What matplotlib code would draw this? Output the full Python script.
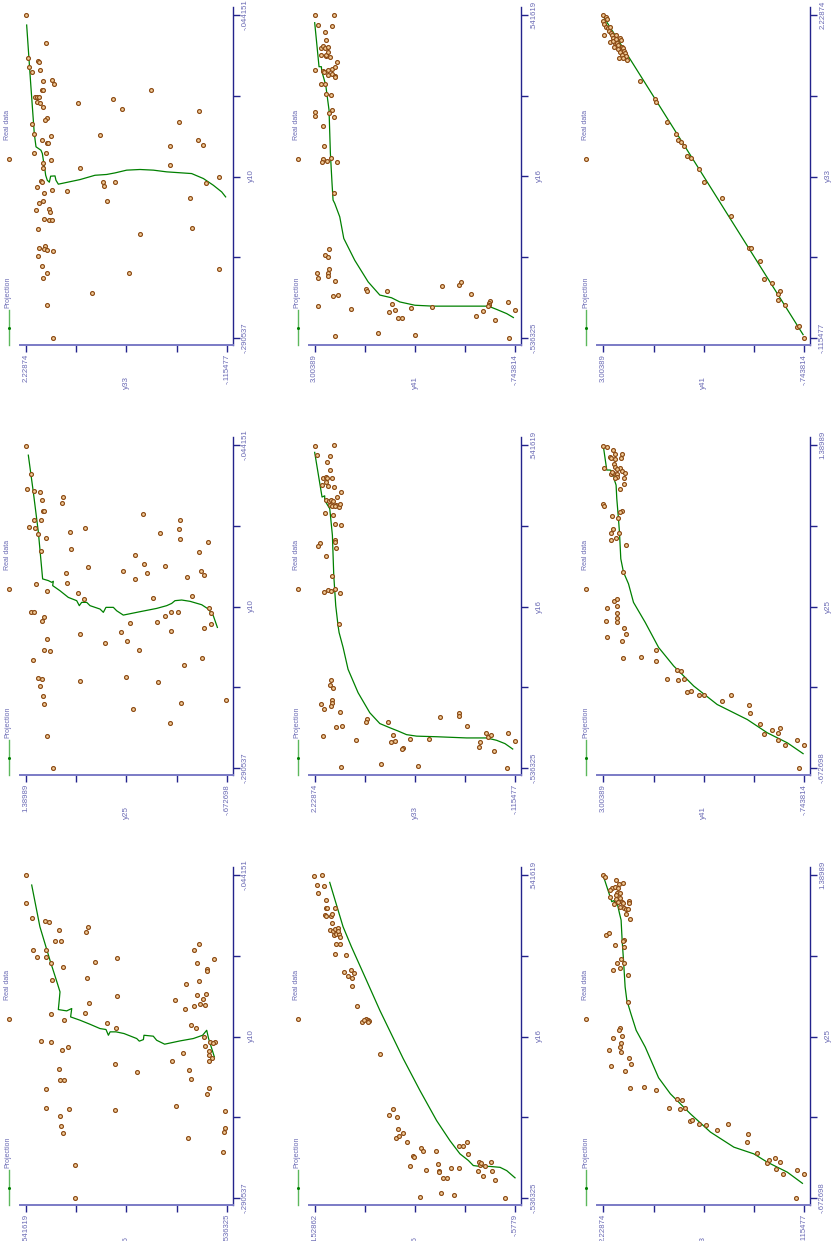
import numpy as np
import matplotlib
matplotlib.use('Agg')
import matplotlib.pyplot as plt
from matplotlib.lines import Line2D

plt.rcParams['font.family'] = ['Liberation Sans', 'DejaVu Sans']

W, H = 833, 1241

# value range of every variable (axis end labels)
ranges = {
    'y10': (-0.290537, -0.044151),
    'y16': (-0.536325, 0.541619),
    'y25': (-0.672698, 1.38989),
    'y26': (-0.5779, 1.52862),
    'y33': (-0.115477, 2.22874),
    'y41': (-0.743814, 3.00389),
}

# ---- real data, (x, y) pairs per panel ----
real_10_16 = [
    (-0.0442, 0.542), (-0.0658, 0.542), (-0.0773, 0.508), (-0.0793, 0.440), (-0.0798, 0.416),
    (-0.0862, 0.363), (-0.0874, 0.219), (-0.0841, 0.207), (-0.0943, 0.386), (-0.0943, 0.355),
    (-0.1010, 0.506), (-0.1015, 0.434), (-0.1065, 0.484), (-0.1070, 0.434), (-0.1073, 0.051),
    (-0.1104, 0.171), (-0.1116, 0.407), (-0.1147, 0.343), (-0.1231, 0.216), (-0.1246, 0.404),
    (-0.1366, 0.051), (-0.1417, 0.201), (-0.1498, 0.407), (-0.1491, 0.225), (-0.1549, 0.338),
    (-0.1570, 0.108), (-0.1610, 0.056), (-0.1709, 0.459), (-0.1715, 0.407), (-0.1750, 0.314),
    (-0.1776, 0.348), (-0.1880, 0.064), (-0.1918, 0.366), (-0.1944, -0.053), (-0.2002, 0.357),
    (-0.2007, 0.339), (-0.2073, 0.434), (-0.2216, 0.432), (-0.2224, 0.311), (-0.2234, 0.064),
    (-0.2277, 0.359), (-0.2356, 0.354), (-0.2409, 0.343), (-0.2656, 0.278), (-0.2903, 0.277),
    (-0.0966, -0.389), (-0.1015, -0.361), (-0.1081, -0.468), (-0.1109, -0.377), (-0.1160, -0.432),
    (-0.1175, -0.429), (-0.1274, -0.318), (-0.1249, -0.389), (-0.1358, -0.377), (-0.1346, -0.425),
    (-0.1396, -0.257), (-0.1391, -0.407), (-0.1422, -0.395), (-0.1432, -0.422), (-0.1440, -0.359),
    (-0.1460, -0.314), (-0.1585, -0.346), (-0.1605, -0.372), (-0.1679, -0.414), (-0.1712, -0.447),
    (-0.1717, -0.474), (-0.1720, -0.464), (-0.1743, -0.420), (-0.1786, -0.439), (-0.1811, -0.443),
    (-0.1834, -0.457), (-0.1860, -0.439), (-0.1862, -0.241), (-0.1799, -0.303), (-0.1931, -0.334),
    (-0.2000, -0.343), (-0.2063, -0.443), (-0.2109, -0.429), (-0.2203, -0.264), (-0.2241, -0.529),
    (-0.2445, -0.327), (-0.2374, -0.529), (-0.2404, -0.524), (-0.2557, -0.517),
]
proj_10_16 = [
    (-0.0518, 0.511), (-0.0836, 0.467), (-0.1091, 0.413), (-0.1269, 0.373), (-0.1333, 0.359),
    (-0.1396, 0.363), (-0.1468, 0.368), (-0.1478, 0.323), (-0.1460, 0.296), (-0.1524, 0.302),
    (-0.1549, 0.252), (-0.1580, 0.198), (-0.1613, 0.144), (-0.1620, 0.112), (-0.1664, 0.099),
    (-0.1638, 0.090), (-0.1638, 0.058), (-0.1651, 0.015), (-0.1689, -0.053), (-0.1709, -0.067),
    (-0.1697, -0.089), (-0.1664, -0.092), (-0.1671, -0.142), (-0.1702, -0.160), (-0.1732, -0.203),
    (-0.1707, -0.286), (-0.1689, -0.357), (-0.1664, -0.407), (-0.1626, -0.429), (-0.1689, -0.439),
    (-0.1829, -0.470),
]

real_10_25 = [
    (-0.0447, 1.390), (-0.0664, 1.339), (-0.0774, 1.376), (-0.0794, 1.308), (-0.0799, 1.250),
    (-0.0863, 1.222), (-0.0838, 1.006), (-0.0881, 1.017), (-0.0945, 1.212), (-0.0947, 1.208),
    (-0.1016, 1.311), (-0.1016, 1.239), (-0.1067, 1.356), (-0.1072, 1.301), (-0.1118, 1.263),
    (-0.1149, 1.188), (-0.1108, 0.941), (-0.1072, 0.787), (-0.1233, 0.931), (-0.1251, 1.232),
    (-0.0970, 0.187), (-0.1113, 0.016), (-0.1083, -0.183), (-0.1016, -0.196), (-0.1159, -0.196),
    (-0.1277, 0.273), (-0.1254, -0.385), (-0.1180, -0.477), (-0.1351, 0.174), (-0.1361, -0.035),
    (-0.1420, 0.143), (-0.1399, 0.396), (-0.1466, 0.266), (-0.1420, 0.975), (-0.1369, 0.756),
    (-0.1494, 0.969), (-0.1499, 1.291), (-0.1553, 1.174), (-0.1445, -0.261), (-0.1402, -0.405),
    (-0.1435, -0.436), (-0.1573, 0.859), (-0.1619, 0.797), (-0.1611, 0.088), (-0.1591, -0.313),
    (-0.1713, 1.335), (-0.1718, 1.304), (-0.1757, 1.202), (-0.1782, 1.229), (-0.1749, -0.042),
    (-0.1718, -0.097), (-0.1718, -0.172), (-0.1683, -0.488), (-0.1726, -0.515), (-0.1795, 0.040),
    (-0.1803, 0.321), (-0.1810, -0.508), (-0.1841, -0.443), (-0.1864, -0.097), (-0.1867, 0.414),
    (-0.1887, 0.835), (-0.1923, 1.178), (-0.1938, 0.355), (-0.1951, 0.581), (-0.2007, 1.202),
    (-0.2015, 1.140), (-0.2007, 0.225), (-0.2079, 1.315), (-0.2068, -0.419), (-0.2117, -0.231),
    (-0.2209, 0.366), (-0.2221, 1.270), (-0.2229, 1.222), (-0.2242, 0.832), (-0.2247, 0.033),
    (-0.2280, 1.246), (-0.2359, 1.215), (-0.2415, 1.205), (-0.2410, -0.200), (-0.2387, -0.669),
    (-0.2456, 0.294), (-0.2563, -0.093), (-0.2663, 1.174), (-0.2905, 1.116),
]
proj_10_25 = [
    (-0.0519, 1.366), (-0.0799, 1.315), (-0.1106, 1.263), (-0.1463, 1.219), (-0.1476, 1.160),
    (-0.1489, 1.126), (-0.1481, 1.109), (-0.1514, 1.116), (-0.1553, 1.041), (-0.1604, 0.955),
    (-0.1629, 0.869), (-0.1667, 0.842), (-0.1642, 0.818), (-0.1642, 0.766), (-0.1667, 0.732),
    (-0.1693, 0.629), (-0.1718, 0.595), (-0.1680, 0.568), (-0.1680, 0.492), (-0.1706, 0.458),
    (-0.1739, 0.390), (-0.1713, 0.218), (-0.1688, 0.047), (-0.1667, -0.056), (-0.1650, -0.107),
    (-0.1629, -0.141), (-0.1624, -0.210), (-0.1634, -0.296), (-0.1660, -0.416), (-0.1693, -0.484),
    (-0.1744, -0.535), (-0.1833, -0.577),
]

real_10_33 = [
    (-0.0442, 2.229), (-0.0658, 1.999), (-0.0773, 2.202), (-0.0793, 2.085), (-0.0798, 2.077),
    (-0.0841, 2.190), (-0.0874, 2.163), (-0.0862, 2.062), (-0.0943, 2.034), (-0.0941, 1.921),
    (-0.0969, 1.902), (-0.1010, 2.046), (-0.1015, 2.026), (-0.1070, 2.124), (-0.1070, 2.104),
    (-0.1065, 2.073), (-0.1104, 2.097), (-0.1116, 2.069), (-0.1147, 2.026), (-0.1231, 1.987),
    (-0.1246, 2.003), (-0.1274, 2.155), (-0.1346, 2.136), (-0.1366, 1.937), (-0.1396, 2.042),
    (-0.1417, 1.980), (-0.1417, 1.972), (-0.1496, 2.139), (-0.1491, 1.991), (-0.1549, 1.937),
    (-0.1608, 2.026), (-0.1567, 2.030), (-0.1709, 2.054), (-0.1715, 2.046), (-0.1753, 2.100),
    (-0.1799, 2.019), (-0.1778, 1.925), (-0.1862, 2.034), (-0.1877, 2.073), (-0.1931, 2.116),
    (-0.1918, 1.956), (-0.1946, 1.945), (-0.2000, 2.015), (-0.2007, 1.964), (-0.2002, 1.925),
    (-0.2073, 2.089), (-0.2216, 2.077), (-0.2201, 2.011), (-0.2226, 2.015), (-0.2236, 1.987),
    (-0.2241, 1.917), (-0.2277, 2.085), (-0.2356, 2.046), (-0.2409, 1.984), (-0.2445, 2.034),
    (-0.2656, 1.987), (-0.2903, 1.917),
    (-0.1015, 0.769), (-0.1081, 1.209), (-0.1157, 1.111), (-0.1111, 1.618), (-0.1175, 0.208),
    (-0.1254, 0.445), (-0.1358, 1.368), (-0.1442, 0.543), (-0.1396, 0.224), (-0.1432, 0.165),
    (-0.1608, 1.598), (-0.1585, 0.547), (-0.1679, -0.029), (-0.1720, 0.130), (-0.1715, 1.333),
    (-0.1745, 1.314), (-0.1715, 1.193), (-0.1786, 1.746), (-0.1862, 1.283), (-0.1839, 0.317),
    (-0.2063, 0.294), (-0.2109, 0.897), (-0.2376, -0.022), (-0.2407, 1.026), (-0.2560, 1.454),
]
proj_10_33 = [
    (-0.0518, 2.221), (-0.0964, 2.174), (-0.1346, 2.132), (-0.1447, 2.112), (-0.1473, 2.054),
    (-0.1498, 2.038), (-0.1549, 2.026), (-0.1625, 2.007), (-0.1664, 1.999), (-0.1702, 1.980),
    (-0.1717, 1.956), (-0.1671, 1.941), (-0.1669, 1.890), (-0.1702, 1.879), (-0.1732, 1.851),
    (-0.1697, 1.598), (-0.1664, 1.423), (-0.1658, 1.287), (-0.1646, 1.189), (-0.1625, 1.053),
    (-0.1620, 0.897), (-0.1625, 0.741), (-0.1638, 0.586), (-0.1651, 0.294), (-0.1689, 0.157),
    (-0.1740, 0.041), (-0.1791, -0.057), (-0.1829, -0.103),
]

real_16_26 = [
    (0.539, 1.536), (0.542, 1.448), (0.508, 1.501), (0.506, 1.434), (0.483, 1.494),
    (0.458, 1.406), (0.433, 1.413), (0.430, 1.402), (0.433, 1.315), (0.408, 1.424),
    (0.406, 1.409), (0.404, 1.360), (0.413, 1.350), (0.383, 1.346), (0.358, 1.367),
    (0.355, 1.336), (0.363, 1.318), (0.365, 1.283), (0.341, 1.325), (0.344, 1.301),
    (0.346, 1.273), (0.335, 1.259), (0.354, 1.280), (0.313, 1.308), (0.310, 1.262),
    (0.277, 1.318), (0.276, 1.196), (0.217, 1.224), (0.224, 1.143), (0.216, 1.112),
    (0.204, 1.178), (0.199, 1.133), (0.172, 1.133), (0.106, 1.087), (0.050, 1.027),
    (0.061, 0.992), (0.059, 0.971), (0.055, 0.961), (0.050, 0.964), (0.059, 1.006),
    (-0.055, 0.838), (-0.240, 0.705), (-0.260, 0.750), (-0.266, 0.663), (-0.306, 0.659),
    (-0.336, 0.673), (-0.329, 0.642), (-0.319, 0.600), (-0.348, 0.558), (-0.369, 0.418),
    (-0.380, 0.397), (-0.380, 0.260), (-0.395, 0.502), (-0.398, 0.491), (-0.429, 0.530),
    (-0.424, 0.239), (-0.443, 0.365), (-0.447, 0.221), (-0.450, 0.225), (-0.435, 0.095),
    (-0.435, 0.018), (-0.470, 0.144), (-0.470, 0.179), (-0.521, 0.204), (-0.527, 0.067),
    (-0.532, 0.425), (-0.363, 0.018), (-0.362, -0.028), (-0.350, -0.073), (-0.391, -0.084),
    (-0.417, -0.196), (-0.425, -0.210), (-0.420, -0.217), (-0.417, -0.326), (-0.430, -0.259),
    (-0.447, -0.182), (-0.463, -0.238), (-0.446, -0.336), (-0.476, -0.368), (-0.536, -0.469),
]
proj_16_26 = [
    (0.517, 1.371), (0.369, 1.231), (0.302, 1.143), (0.190, 0.985), (0.090, 0.845),
    (-0.071, 0.600), (-0.177, 0.425), (-0.278, 0.249), (-0.345, 0.109), (-0.389, 0.004),
    (-0.411, -0.084), (-0.428, -0.136), (-0.431, -0.206), (-0.431, -0.312), (-0.434, -0.417),
    (-0.445, -0.487), (-0.469, -0.574),
]

real_16_33 = [
    (0.539, 2.229), (0.540, 2.003), (0.508, 2.205), (0.506, 2.045), (0.484, 2.081),
    (0.459, 2.053), (0.433, 2.127), (0.435, 2.100), (0.432, 2.084), (0.433, 2.026),
    (0.408, 2.143), (0.405, 2.069), (0.403, 2.006), (0.417, 2.092), (0.385, 1.925),
    (0.368, 1.964), (0.357, 2.092), (0.354, 2.061), (0.357, 2.034), (0.356, 2.014),
    (0.343, 2.053), (0.339, 2.022), (0.341, 1.975), (0.336, 1.948), (0.345, 1.928),
    (0.338, 1.995), (0.314, 2.108), (0.309, 2.018), (0.278, 1.991), (0.276, 1.921),
    (0.215, 2.170), (0.204, 2.194), (0.223, 1.995), (0.218, 1.987), (0.198, 1.983),
    (0.171, 2.092), (0.104, 2.026), (0.050, 2.116), (0.059, 2.073), (0.055, 2.034),
    (0.061, 1.987), (0.048, 1.936), (-0.056, 1.948), (-0.242, 2.038), (-0.260, 2.045),
    (-0.269, 2.014), (-0.308, 2.022), (-0.321, 2.030), (-0.331, 2.042), (-0.322, 2.159),
    (-0.339, 2.120), (-0.349, 1.932), (-0.374, 1.613), (-0.382, 1.628), (-0.382, 1.371),
    (-0.400, 1.979), (-0.397, 1.905), (-0.431, 2.135), (-0.444, 1.749), (-0.427, 1.312),
    (-0.450, 1.332), (-0.445, 1.285), (-0.438, 1.117), (-0.470, 1.199), (-0.473, 1.211),
    (-0.438, 0.899), (-0.365, 0.770), (-0.352, 0.548), (-0.364, 0.548), (-0.397, 0.446),
    (-0.419, 0.224), (-0.433, 0.209), (-0.427, 0.166), (-0.448, 0.294), (-0.465, 0.314),
    (-0.478, 0.131), (-0.419, -0.029), (-0.447, -0.111), (-0.534, 1.921), (-0.522, 1.460),
    (-0.531, 1.027), (-0.537, -0.021),
]
proj_16_33 = [
    (0.517, 2.229), (0.368, 2.143), (0.372, 2.112), (0.357, 2.112), (0.329, 2.053),
    (0.307, 2.045), (0.240, 2.022), (0.106, 2.006), (0.005, 1.983), (-0.061, 1.956),
    (-0.084, 1.944), (-0.134, 1.897), (-0.207, 1.839), (-0.285, 1.722), (-0.352, 1.585),
    (-0.388, 1.468), (-0.402, 1.351), (-0.413, 1.254), (-0.425, 1.156), (-0.430, 1.039),
    (-0.432, 0.805), (-0.436, 0.454), (-0.436, 0.220), (-0.444, 0.103), (-0.455, 0.006),
    (-0.473, -0.084),
]

real_16_41 = [
    (0.542, 3.004), (0.542, 2.642), (0.508, 2.942), (0.506, 2.680), (0.484, 2.817),
    (0.458, 2.798), (0.432, 2.892), (0.438, 2.848), (0.430, 2.811), (0.434, 2.748),
    (0.408, 2.885), (0.405, 2.798), (0.408, 2.786), (0.417, 2.761), (0.402, 2.717),
    (0.385, 2.592), (0.358, 2.991), (0.355, 2.842), (0.352, 2.829), (0.358, 2.748),
    (0.361, 2.680), (0.367, 2.623), (0.340, 2.748), (0.345, 2.680), (0.338, 2.623),
    (0.336, 2.617), (0.313, 2.879), (0.310, 2.811), (0.279, 2.786), (0.275, 2.705),
    (0.219, 3.004), (0.204, 2.991), (0.224, 2.680), (0.215, 2.730), (0.200, 2.648),
    (0.172, 2.842), (0.106, 2.829), (0.061, 2.854), (0.051, 2.873), (0.056, 2.767),
    (0.063, 2.705), (0.050, 2.586), (-0.054, 2.642), (-0.240, 2.742), (-0.259, 2.804),
    (-0.267, 2.748), (-0.319, 2.954), (-0.336, 2.935), (-0.305, 2.742), (-0.319, 2.748),
    (-0.329, 2.761), (-0.347, 2.617), (-0.397, 2.667), (-0.392, 2.574), (-0.428, 2.935),
    (-0.441, 2.318), (-0.373, 2.037), (-0.379, 2.031), (-0.379, 1.645), (-0.424, 1.563),
    (-0.448, 1.613), (-0.444, 1.507), (-0.468, 1.370), (-0.469, 1.445), (-0.436, 1.214),
    (-0.434, 0.809), (-0.363, 0.622), (-0.361, 0.304), (-0.348, 0.266), (-0.390, 0.092),
    (-0.413, -0.276), (-0.419, -0.257), (-0.425, -0.245), (-0.429, -0.233), (-0.445, -0.145),
    (-0.462, -0.002), (-0.475, -0.370), (-0.417, -0.607), (-0.444, -0.738), (-0.531, 2.630),
    (-0.518, 1.825), (-0.527, 1.133), (-0.535, -0.632),
]
proj_16_41 = [
    (0.516, 3.004), (0.369, 2.923), (0.369, 2.879), (0.355, 2.873), (0.308, 2.798),
    (0.224, 2.736), (0.080, 2.711), (-0.021, 2.680), (-0.076, 2.661), (-0.087, 2.630),
    (-0.132, 2.536), (-0.204, 2.461), (-0.277, 2.256), (-0.349, 2.006), (-0.393, 1.788),
    (-0.402, 1.570), (-0.416, 1.414), (-0.427, 1.133), (-0.430, 0.790), (-0.430, 0.104),
    (-0.430, -0.239), (-0.441, -0.395), (-0.455, -0.582), (-0.468, -0.706),
]

real_25_33 = [
    (1.390, 2.229), (1.379, 2.209), (1.358, 2.080), (1.305, 2.131), (1.294, 2.151),
    (1.315, 2.092), (1.332, 2.045), (1.337, 2.002), (1.305, 2.053), (1.273, 2.072),
    (1.262, 2.084), (1.251, 2.151), (1.277, 2.033), (1.241, 2.033), (1.234, 2.080),
    (1.219, 2.053), (1.219, 2.014), (1.213, 1.994), (1.226, 1.924), (1.213, 1.928),
    (1.204, 2.104), (1.177, 1.986), (1.170, 1.963), (1.170, 1.936), (1.187, 2.033),
    (1.140, 1.967), (1.110, 1.916), (1.004, 2.197), (1.017, 2.166), (0.974, 1.986),
    (0.970, 1.994), (0.940, 2.092), (0.927, 1.986), (0.852, 2.018), (0.831, 2.072),
    (0.827, 1.986), (0.786, 2.111), (0.797, 2.033), (0.750, 1.936), (0.579, 1.944),
    (0.413, 2.033), (0.398, 2.045), (0.362, 2.010), (0.351, 2.119), (0.317, 2.029),
    (0.291, 2.033), (0.262, 2.026), (0.270, 2.158), (0.170, 2.139), (0.219, 1.932),
    (0.183, 1.904), (0.138, 1.979), (0.029, 1.920), (0.033, 1.752), (0.014, 1.615),
    (-0.041, 1.369), (-0.045, 1.307), (-0.099, 1.459), (-0.103, 1.330), (-0.101, 1.279),
    (-0.182, 1.213), (-0.174, 1.193), (-0.203, 1.115), (-0.206, 1.025), (-0.238, 0.900),
    (-0.201, 0.771), (-0.265, 0.541), (-0.316, 0.549), (-0.387, 0.439), (-0.449, 0.314),
    (-0.427, 0.295), (-0.415, 0.221), (-0.444, 0.162), (-0.487, 0.213), (-0.521, 0.127),
    (-0.493, -0.033), (-0.519, -0.115), (-0.673, -0.026),
]
proj_25_33 = [
    (1.383, 2.229), (1.219, 2.131), (1.226, 2.111), (1.204, 2.065), (1.145, 2.041),
    (1.102, 2.022), (0.974, 2.010), (0.846, 1.994), (0.675, 1.975), (0.590, 1.955),
    (0.505, 1.908), (0.398, 1.846), (0.291, 1.740), (0.095, 1.584), (-0.007, 1.447),
    (-0.135, 1.213), (-0.252, 0.978), (-0.348, 0.705), (-0.391, 0.471), (-0.444, 0.314),
    (-0.508, 0.080), (-0.579, -0.096),
]

real_25_41 = [
    (1.386, 3.004), (1.375, 2.941), (1.358, 2.817), (1.332, 2.785), (1.334, 2.648),
    (1.315, 2.879), (1.304, 2.866), (1.300, 2.792), (1.309, 2.679), (1.266, 2.804),
    (1.251, 2.779), (1.240, 2.692), (1.234, 2.742), (1.223, 2.660), (1.202, 2.866),
    (1.213, 2.817), (1.202, 2.754), (1.208, 2.592), (1.240, 2.991), (1.215, 2.842),
    (1.183, 2.754), (1.176, 2.623), (1.176, 2.785), (1.138, 2.617), (1.112, 2.698),
    (1.016, 3.004), (1.001, 2.991), (0.971, 2.648), (0.965, 2.685), (0.926, 2.723),
    (0.939, 2.842), (0.851, 2.829), (0.830, 2.854), (0.828, 2.704), (0.796, 2.767),
    (0.783, 2.866), (0.749, 2.579), (0.578, 2.642), (0.394, 2.798), (0.409, 2.742),
    (0.349, 2.929), (0.360, 2.742), (0.315, 2.742), (0.287, 2.754), (0.257, 2.748),
    (0.266, 2.948), (0.219, 2.610), (0.180, 2.573), (0.167, 2.935), (0.137, 2.660),
    (0.028, 2.629), (0.033, 2.311), (0.080, 2.030), (0.009, 2.030), (-0.044, 1.636),
    (-0.051, 1.555), (-0.102, 1.823), (-0.108, 1.605), (-0.104, 1.505), (-0.187, 1.442),
    (-0.179, 1.361), (-0.207, 1.211), (-0.209, 1.118), (-0.204, 0.612), (-0.243, 0.793),
    (-0.269, 0.293), (-0.320, 0.262), (-0.390, 0.087), (-0.455, 0.000), (-0.433, -0.150),
    (-0.418, -0.288), (-0.448, -0.263), (-0.491, -0.256), (-0.527, -0.381), (-0.497, -0.613),
    (-0.525, -0.744), (-0.672, -0.644),
]
proj_25_41 = [
    (1.379, 3.004), (1.230, 2.941), (1.230, 2.879), (1.219, 2.817), (1.166, 2.798),
    (1.134, 2.767), (1.048, 2.754), (0.920, 2.723), (0.834, 2.704), (0.663, 2.679),
    (0.578, 2.629), (0.503, 2.535), (0.385, 2.442), (0.257, 2.223), (0.097, 1.973),
    (-0.021, 1.692), (-0.149, 1.318), (-0.267, 0.880), (-0.363, 0.318), (-0.448, -0.057),
    (-0.512, -0.431), (-0.581, -0.725),
]

real_33_41 = [
    (2.229, 3.004), (2.217, 2.960), (2.197, 2.941), (2.188, 3.004), (2.161, 2.985),
    (2.144, 2.954), (2.132, 2.923), (2.139, 2.879), (2.115, 2.898), (2.086, 2.991),
    (2.096, 2.866), (2.083, 2.848), (2.083, 2.767), (2.059, 2.817), (2.059, 2.692),
    (2.047, 2.673), (2.035, 2.879), (2.028, 2.785), (2.023, 2.754), (2.011, 2.723),
    (1.999, 2.804), (1.999, 2.660), (1.987, 2.629), (1.979, 2.735), (1.970, 2.617),
    (1.962, 2.692), (1.950, 2.598), (1.938, 2.648), (1.931, 2.579), (1.914, 2.717),
    (1.914, 2.629), (1.902, 2.567), (2.042, 2.829), (2.052, 2.773), (1.747, 2.317),
    (1.616, 2.036), (1.599, 2.030), (1.451, 1.817), (1.362, 1.642), (1.325, 1.611),
    (1.306, 1.555), (1.277, 1.505), (1.204, 1.442), (1.192, 1.361), (1.110, 1.211),
    (1.020, 1.118), (0.897, 0.793), (0.771, 0.612), (0.538, 0.293), (0.541, 0.256),
    (0.442, 0.087), (0.311, 0.000), (0.287, -0.150), (0.224, -0.288), (0.207, -0.256),
    (0.163, -0.263), (0.127, -0.381), (-0.035, -0.613), (-0.026, -0.650), (-0.113, -0.744),
]
proj_33_41 = [(2.217, 3.004), (1.560, 1.942), (0.786, 0.693), (-0.091, -0.725)]

# (row, col) of the unrotated grid -> x variable, y variable, real data, projection
panels = {
    (0, 0): ('y10', 'y16', real_10_16, proj_10_16),
    (0, 1): ('y10', 'y25', real_10_25, proj_10_25),
    (0, 2): ('y10', 'y33', real_10_33, proj_10_33),
    (1, 0): ('y16', 'y26', real_16_26, proj_16_26),
    (1, 1): ('y16', 'y33', real_16_33, proj_16_33),
    (1, 2): ('y16', 'y41', real_16_41, proj_16_41),
    (2, 0): ('y25', 'y33', real_25_33, proj_25_33),
    (2, 1): ('y25', 'y41', real_25_41, proj_25_41),
    (2, 2): ('y33', 'y41', real_33_41, proj_33_41),
}

TXT = '#6a6ab4'
LIGHT = '#7b7bc6'
DARK = '#23238c'
GREEN = '#008000'
MEC = '#8b4a14'
MFC = '#f2cc98'
FS_TICK = 5.6
FS_LAB = 5.8
FS_LEG = 5.0


def fmt(v):
    s = '%g' % v
    if s.startswith('0.'):
        s = s[1:]
    elif s.startswith('-0.'):
        s = '-' + s[2:]
    return s


def fx(px):
    return px / W


def fy(py):
    return 1 - py / H


fig = plt.figure(figsize=(W / 100, H / 100), dpi=100)

# the whole sheet is drawn turned a quarter turn counter-clockwise:
# the original x axis runs up the page, the original y axis runs right to left
for (r, c), (xvar, yvar, real, proj) in panels.items():
    k = 2 - c
    L = 26 + 288.7 * r
    R = L + 200.7
    T = 15 + 430 * k
    B = T + 323
    aw = R - L + 12
    ah = B - T + 15
    ax = fig.add_axes([fx(L - 6), fy(B + 7), aw / W, ah / H])

    xmin, xmax = ranges[xvar]
    ymin, ymax = ranges[yvar]
    sh = (ymax - ymin) / (R - L)
    sv = (xmax - xmin) / (B - T)
    ax.set_xlim(ymax + 6 * sh, ymin - 6 * sh)
    ax.set_ylim(xmin - 7 * sv, xmax + 8 * sv)

    px, py = np.array(proj).T
    ax.plot(py, px, color=GREEN, lw=0.9, zorder=2)
    rx, ry = np.array(real).T
    ax.plot(ry, rx, 'o', ms=2.8, mfc=MFC, mec=MEC, mew=0.85, ls='none', zorder=3)

    ax.spines['top'].set_visible(False)
    ax.spines['left'].set_visible(False)
    ax.spines['bottom'].set_color(LIGHT)
    ax.spines['bottom'].set_linewidth(1.4)
    ax.spines['right'].set_color(DARK)
    ax.spines['right'].set_linewidth(1.0)
    ax.yaxis.tick_right()
    ax.yaxis.set_label_position('right')

    ax.set_xticks(np.linspace(ymin, ymax, 5))
    ax.set_xticklabels([fmt(ymin), '', '', '', fmt(ymax)])
    ax.set_yticks(np.linspace(xmin, xmax, 5))
    ax.set_yticklabels([fmt(xmin), '', '', '', fmt(xmax)])
    ax.tick_params(axis='both', direction='out', length=5, width=1.0, color=DARK,
                   labelcolor=TXT, labelsize=FS_TICK, labelrotation=90, pad=1.5)
    for lab in ax.get_yticklabels():
        lab.set_va('center')
    ax.set_xlabel(yvar, rotation=90, color=TXT, fontsize=FS_LAB)
    ax.xaxis.set_label_coords(0.5, -31 / ah)
    ax.set_ylabel(xvar, rotation=90, color=TXT, fontsize=FS_LAB)
    ax.yaxis.set_label_coords(1 + 15 / aw, 0.5)

    # legend, drawn by hand so it can lie on its side
    lx = L - 17
    fig.add_artist(Line2D([fx(lx), fx(lx)], [fy(B - 28), fy(B + 7)], color='#5cb85c', lw=1.0))
    fig.add_artist(Line2D([fx(lx)], [fy(B - 10)], marker='o', ms=1.2, color=GREEN))
    fig.text(fx(lx - 1), fy(B - 30), 'Projection', rotation=90, ha='center', va='bottom',
             color=TXT, fontsize=FS_LEG)
    fig.add_artist(Line2D([fx(lx)], [fy(B - 179)], marker='o', ms=2.8, mfc=MFC, mec=MEC,
                          mew=0.85, ls='none'))
    fig.text(fx(lx - 1), fy(B - 198), 'Real data', rotation=90, ha='center', va='bottom',
             color=TXT, fontsize=FS_LEG)

fig.savefig('out.png', dpi=100)
